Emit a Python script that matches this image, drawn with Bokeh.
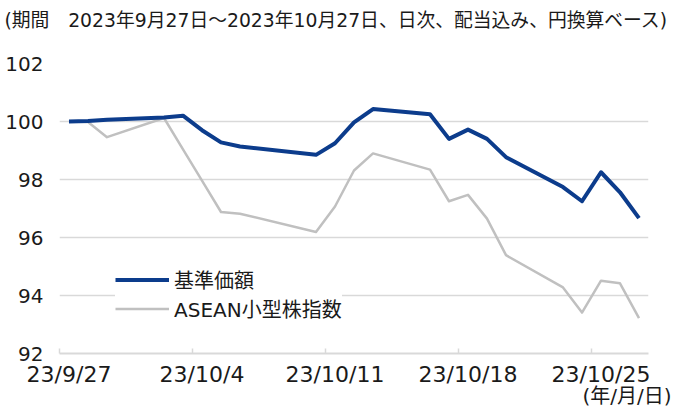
import pandas as pd
from bokeh.plotting import figure
from bokeh.models import FixedTicker, Legend, LegendItem, Title, Range1d
from bokeh.embed import file_html
from bokeh.resources import INLINE

# ---- data ----
dates = ["2023-09-27", "2023-09-28", "2023-09-29", "2023-10-02", "2023-10-03",
         "2023-10-04", "2023-10-05", "2023-10-06", "2023-10-10", "2023-10-11",
         "2023-10-12", "2023-10-13", "2023-10-16", "2023-10-17", "2023-10-18",
         "2023-10-19", "2023-10-20", "2023-10-23", "2023-10-24", "2023-10-25",
         "2023-10-26", "2023-10-27"]
nav = [100.00, 100.02, 100.06, 100.14, 100.20, 99.70, 99.28, 99.14, 98.85, 99.25,
       99.97, 100.43, 100.25, 99.40, 99.72, 99.40, 98.77, 97.74, 97.25, 98.25,
       97.56, 96.67]
asean = [100.00, 99.98, 99.46, 100.12, 99.04, 97.96, 96.88, 96.82, 96.19, 97.07,
         98.31, 98.90, 98.34, 97.25, 97.47, 96.65, 95.39, 94.28, 93.41, 94.51,
         94.42, 93.22]
series_names = ["基準価額", "ASEAN小型株指数"]
tick_dates = ["2023-09-27", "2023-10-04", "2023-10-11", "2023-10-18", "2023-10-25"]
tick_labels = ["23/9/27", "23/10/4", "23/10/11", "23/10/18", "23/10/25"]
y_ticks = [92, 94, 96, 98, 100, 102]
title_text = "(期間　2023年9月27日～2023年10月27日、日次、配当込み、円換算ベース)"
unit_text = "(年/月/日)"

# ---- derived ----
start = pd.Timestamp(dates[0])
xs = [(pd.Timestamp(d) - start).days for d in dates]
n_days = (pd.Timestamp(dates[-1]) - start).days + 1
tick_x = [(pd.Timestamp(d) - start).days for d in tick_dates]
minor_x = [t - 0.5 for t in tick_x]

FONT = "DejaVu Sans, Noto Sans CJK JP"
NUMFONT = "DejaVu Sans"
TXT = "#1a1a1a"
GRID = "#D9D9D9"
BLUE = "#0C3C8C"
GRAY = "#C0C0C0"

W, H = 673, 406
ML, MR, MT, MB = 59, 25, 63, 53

p = figure(width=W, height=H, output_backend="svg", toolbar_location=None,
           x_range=Range1d(-0.5, n_days - 0.5), y_range=Range1d(y_ticks[0], y_ticks[-1]),
           min_border_left=ML, min_border_right=MR, min_border_top=MT, min_border_bottom=MB)
p.outline_line_color = None
p.background_fill_color = "white"

p.xgrid.visible = False
p.ygrid.ticker = FixedTicker(ticks=y_ticks)
p.ygrid.grid_line_color = GRID
p.ygrid.grid_line_width = 1.6

yax = p.yaxis[0]
yax.ticker = FixedTicker(ticks=y_ticks)
yax.axis_line_color = None
yax.major_tick_line_color = None
yax.minor_tick_line_color = None
yax.major_tick_out = 0
yax.major_tick_in = 0
yax.major_label_text_font = NUMFONT
yax.major_label_text_font_size = "20px"
yax.major_label_text_color = TXT
yax.major_label_standoff = 16

xax = p.xaxis[0]
xax.ticker = FixedTicker(ticks=tick_x, minor_ticks=minor_x)
xax.major_label_overrides = {t: lab for t, lab in zip(tick_x, tick_labels)}
xax.axis_line_color = GRID
xax.axis_line_width = 2
xax.major_tick_line_color = None
xax.major_tick_out = 0
xax.major_tick_in = 0
xax.minor_tick_line_color = GRID
xax.minor_tick_line_width = 1.5
xax.minor_tick_in = 5
xax.minor_tick_out = 0
xax.major_label_text_font = NUMFONT
xax.major_label_text_font_size = "22px"
xax.major_label_text_color = TXT
xax.major_label_standoff = 8

r_gray = p.line(xs, asean, line_color=GRAY, line_width=2.5, line_join="round")
r_blue = p.line(xs, nav, line_color=BLUE, line_width=4, line_join="round")

legend = Legend(items=[LegendItem(label=series_names[0], renderers=[r_blue]),
                       LegendItem(label=series_names[1], renderers=[r_gray])],
                location=(56, 30), margin=0, padding=12, spacing=-4,
                glyph_width=54, glyph_height=27, label_height=27, label_standoff=5,
                label_text_font=FONT, label_text_font_size="20px", label_text_color=TXT,
                border_line_color=None, background_fill_color="white", background_fill_alpha=1)
p.add_layout(legend)

# title on top (outermost), spacer between it and the frame
p.title.text = title_text
p.title.align = "left"
p.title.offset = -55
p.title.vertical_align = "top"
p.title.standoff = 0
p.title.text_font = FONT
p.title.text_font_size = "18.8px"
p.title.text_font_style = "normal"
p.title.text_color = TXT
p.add_layout(Title(text=" ", standoff=9, text_font_size="17.5px", text_font=FONT), "above")

# unit note below the x axis, right aligned
p.add_layout(Title(text=unit_text, align="right", offset=-23, vertical_align="top", standoff=-12,
                   text_font=FONT, text_font_size="20px", text_font_style="normal",
                   text_color=TXT), "below")

open("out.html", "w").write(file_html(p, INLINE))
